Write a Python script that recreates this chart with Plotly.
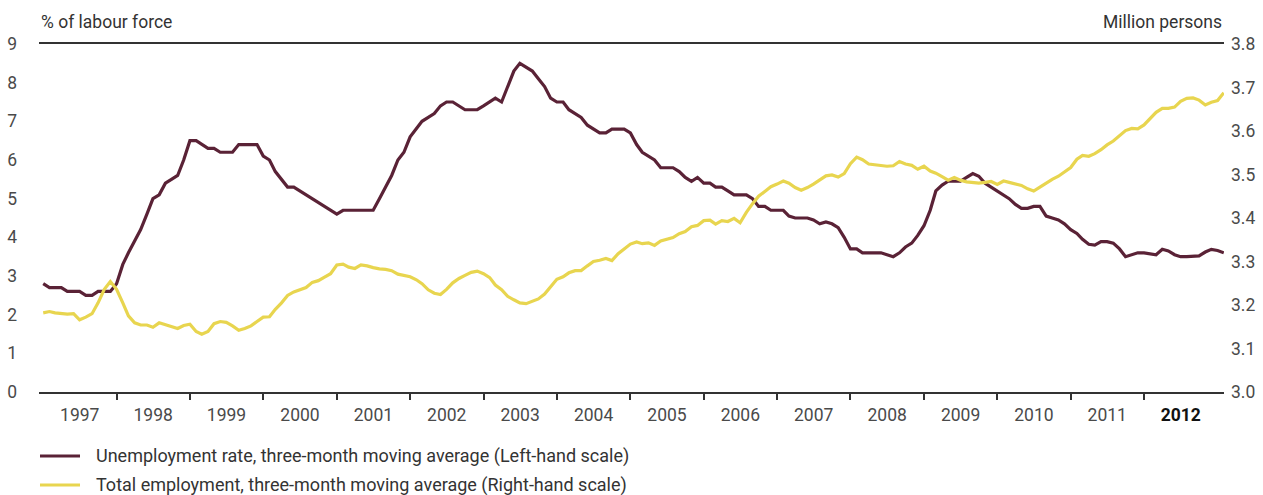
import pandas as pd
import plotly.graph_objects as go

# Unemployment rate, 3-month moving average (% of labour force), monthly from Jan 1997
unemployment = [
    2.8, 2.7, 2.7, 2.7, 2.6, 2.6, 2.6, 2.5, 2.5, 2.6, 2.6, 2.6,          # 1997
    2.8, 3.3, 3.6, 3.9, 4.2, 4.6, 5.0, 5.1, 5.4, 5.5, 5.6, 6.0,          # 1998
    6.5, 6.5, 6.4, 6.3, 6.3, 6.2, 6.2, 6.2, 6.4, 6.4, 6.4, 6.4,          # 1999
    6.1, 6.0, 5.7, 5.5, 5.3, 5.3, 5.2, 5.1, 5.0, 4.9, 4.8, 4.7,          # 2000
    4.6, 4.7, 4.7, 4.7, 4.7, 4.7, 4.7, 5.0, 5.3, 5.6, 6.0, 6.2,          # 2001
    6.6, 6.8, 7.0, 7.1, 7.2, 7.4, 7.5, 7.5, 7.4, 7.3, 7.3, 7.3,          # 2002
    7.4, 7.5, 7.6, 7.5, 7.9, 8.3, 8.5, 8.4, 8.3, 8.1, 7.9, 7.6,          # 2003
    7.5, 7.5, 7.3, 7.2, 7.1, 6.9, 6.8, 6.7, 6.7, 6.8, 6.8, 6.8,          # 2004
    6.7, 6.4, 6.2, 6.1, 6.0, 5.8, 5.8, 5.8, 5.7, 5.55, 5.45, 5.55,       # 2005
    5.4, 5.4, 5.3, 5.3, 5.2, 5.1, 5.1, 5.1, 5.0, 4.8, 4.8, 4.7,          # 2006
    4.7, 4.7, 4.55, 4.5, 4.5, 4.5, 4.45, 4.35, 4.4, 4.35, 4.25, 4.0,     # 2007
    3.7, 3.7, 3.6, 3.6, 3.6, 3.6, 3.55, 3.5, 3.6, 3.75, 3.85, 4.05,      # 2008
    4.3, 4.7, 5.2, 5.35, 5.45, 5.45, 5.45, 5.55, 5.65, 5.58, 5.4, 5.3,   # 2009
    5.2, 5.1, 5.0, 4.85, 4.75, 4.75, 4.8, 4.8, 4.55, 4.5, 4.45, 4.35,    # 2010
    4.2, 4.1, 3.95, 3.82, 3.8, 3.89, 3.89, 3.85, 3.7, 3.5, 3.55, 3.6,    # 2011
    3.6, 3.57, 3.55, 3.69, 3.65, 3.55, 3.5, 3.5, 3.5, 3.52, 3.62, 3.69,  # 2012
    3.66, 3.6,                                                           # 2013
]

# Total employment, 3-month moving average (million persons), monthly from Jan 1997
employment = [
    3.182, 3.185, 3.182, 3.181, 3.179, 3.180, 3.166, 3.172, 3.180, 3.205, 3.236, 3.254,  # 1997
    3.236, 3.205, 3.175, 3.159, 3.154, 3.154, 3.149, 3.159, 3.154, 3.150, 3.146, 3.153,  # 1998
    3.156, 3.139, 3.133, 3.139, 3.157, 3.162, 3.160, 3.152, 3.142, 3.146, 3.152, 3.162,  # 1999
    3.172, 3.173, 3.190, 3.205, 3.222, 3.230, 3.234, 3.240, 3.252, 3.256, 3.264, 3.272,  # 2000
    3.292, 3.294, 3.287, 3.284, 3.292, 3.290, 3.286, 3.283, 3.282, 3.279, 3.271, 3.268,  # 2001
    3.265, 3.258, 3.249, 3.235, 3.227, 3.224, 3.236, 3.251, 3.261, 3.268, 3.275, 3.278,  # 2002
    3.272, 3.263, 3.246, 3.235, 3.220, 3.212, 3.205, 3.203, 3.209, 3.214, 3.225, 3.242,  # 2003
    3.259, 3.265, 3.274, 3.279, 3.279, 3.290, 3.300, 3.303, 3.307, 3.302, 3.318, 3.329,  # 2004
    3.340, 3.345, 3.341, 3.343, 3.337, 3.347, 3.350, 3.355, 3.364, 3.369, 3.380, 3.383,  # 2005
    3.394, 3.395, 3.386, 3.394, 3.392, 3.399, 3.389, 3.413, 3.433, 3.450, 3.461, 3.472,  # 2006
    3.478, 3.485, 3.480, 3.470, 3.464, 3.470, 3.478, 3.487, 3.497, 3.499, 3.494, 3.502,  # 2007
    3.525, 3.540, 3.534, 3.524, 3.522, 3.521, 3.519, 3.520, 3.530, 3.524, 3.521, 3.512,  # 2008
    3.519, 3.508, 3.503, 3.495, 3.487, 3.493, 3.487, 3.483, 3.481, 3.480, 3.482, 3.484,  # 2009
    3.477, 3.485, 3.482, 3.479, 3.475, 3.467, 3.462, 3.471, 3.481, 3.489, 3.496, 3.505,  # 2010
    3.516, 3.535, 3.544, 3.542, 3.548, 3.557, 3.568, 3.577, 3.590, 3.601, 3.606, 3.605,  # 2011
    3.614, 3.628, 3.643, 3.652, 3.652, 3.655, 3.668, 3.675, 3.676, 3.671, 3.660, 3.666,  # 2012
    3.670, 3.688,                                                                        # 2013
]

years = list(range(1997, 2013))
year_labels = [str(y) for y in years[:-1]] + ["<span style='color:#111'><b>2012</b></span>"]
left_ticks = list(range(0, 10))
right_ticks = [3.0, 3.1, 3.2, 3.3, 3.4, 3.5, 3.6, 3.7, 3.8]

unemp_name = "Unemployment rate, three-month moving average (Left-hand scale)"
emp_name = "Total employment, three-month moving average (Right-hand scale)"

MAROON = "#5a2236"
YELLOW = "#e8d54f"
TEXT = "#4a4a4a"
FONT = "Roboto"
FS = 17.5

months = pd.date_range("1997-01-01", periods=len(unemployment), freq="MS")
x_range = ["1996-12-11", "2013-02-02"]

fig = go.Figure()
fig.add_trace(go.Scatter(x=months, y=employment, mode="lines", name=emp_name,
                         line=dict(color=YELLOW, width=3.2), yaxis="y2", showlegend=False))
fig.add_trace(go.Scatter(x=months, y=unemployment, mode="lines", name=unemp_name,
                         line=dict(color=MAROON, width=3.2), showlegend=False))

fig.update_layout(
    width=1263, height=495,
    margin=dict(l=39, r=39, t=44, b=103, autoexpand=False),
    paper_bgcolor="white", plot_bgcolor="white",
    font=dict(family=FONT, size=FS, color=TEXT),
    xaxis=dict(
        type="date", range=x_range, automargin=False,
        tickvals=[f"{y}-01-01" for y in years[1:]],
        ticktext=["" for _ in years[1:]],
        ticks="outside", ticklen=6, tickwidth=1.6, tickcolor="#333333",
        showline=True, linecolor="#333333", linewidth=1.6, mirror=True,
        showgrid=False, zeroline=False, fixedrange=True,
    ),
    xaxis2=dict(
        type="date", range=x_range, overlaying="x", side="bottom", anchor="y",
        automargin=False,
        tickvals=[f"{y}-07-02" for y in years],
        ticktext=year_labels,
        ticks="", showline=False, showgrid=False, zeroline=False,
        ticklabelstandoff=10,
        tickfont=dict(family=FONT, size=FS, color=TEXT),
    ),
    yaxis=dict(
        range=[0, 9], tickvals=left_ticks, ticks="", showgrid=False, automargin=False,
        zeroline=False, showline=False, ticklabelstandoff=21,
        tickfont=dict(family=FONT, size=FS, color=TEXT),
    ),
    yaxis2=dict(
        range=[3.0, 3.8], tickvals=right_ticks, tickformat=".1f", automargin=False,
        overlaying="y", side="right", ticks="", showgrid=False,
        zeroline=False, showline=False, ticklabelstandoff=6,
        tickfont=dict(family=FONT, size=FS, color=TEXT),
    ),
)

# invisible trace so the label axis is drawn
fig.add_trace(go.Scatter(x=[months[0]], y=[None], xaxis="x2", showlegend=False,
                         hoverinfo="skip"))

# Axis unit titles
fig.add_annotation(text="% of labour force", xref="paper", yref="paper", x=0, y=1.0,
                   xanchor="left", yanchor="bottom", yshift=10, showarrow=False,
                   font=dict(family=FONT, size=FS, color="#333333"))
fig.add_annotation(text="Million persons", xref="paper", yref="paper", x=1, y=1.0,
                   xanchor="right", yanchor="bottom", yshift=10, showarrow=False,
                   font=dict(family=FONT, size=FS, color="#333333"))

# Manual legend
W = 1185.0
H = 348.0
def px_x(px):
    return (px - 39) / W
def px_y(py):
    return (392 - py) / H

for (name, color, py) in [(unemp_name, MAROON, 456), (emp_name, YELLOW, 485)]:
    fig.add_shape(type="line", xref="paper", yref="paper",
                  x0=px_x(40), x1=px_x(80), y0=px_y(py), y1=px_y(py),
                  line=dict(color=color, width=3.2))
    fig.add_annotation(text=name, xref="paper", yref="paper", x=px_x(94), y=px_y(py),
                       xanchor="left", yanchor="middle", showarrow=False,
                       font=dict(family=FONT, size=18, color="#333333"))

fig.write_html(
    "out.html",
    config={"displayModeBar": False},
    post_script="document.body.style.margin='0';document.body.style.overflow='hidden';",
)
